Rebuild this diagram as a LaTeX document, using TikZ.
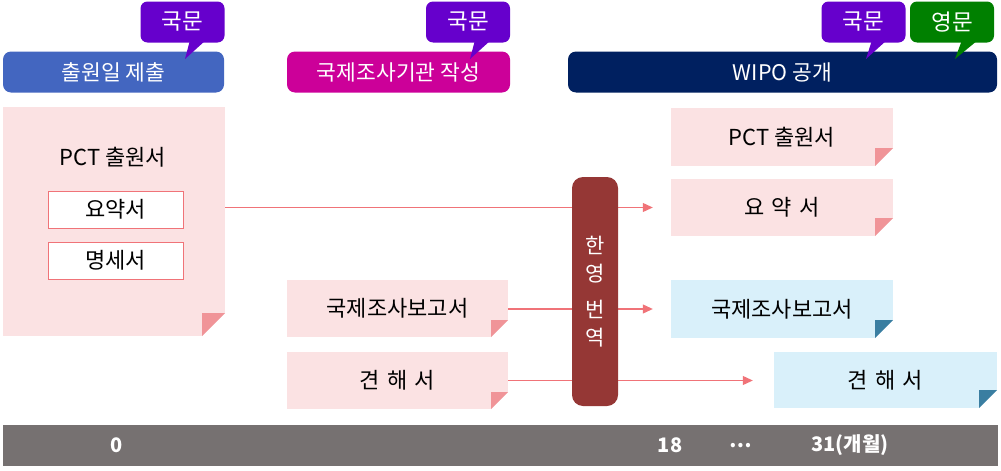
\documentclass[tikz,border=0pt]{standalone}
\usepackage{fontspec}
\setmainfont{Noto Sans CJK KR}
\usepackage{tikz}
\usetikzlibrary{arrows.meta}

\definecolor{hblue}{HTML}{4366C0}
\definecolor{hmagenta}{HTML}{CC0099}
\definecolor{hnavy}{HTML}{002060}
\definecolor{cpurple}{HTML}{6600CC}
\definecolor{cgreen}{HTML}{008000}
\definecolor{notepink}{HTML}{FBE2E3}
\definecolor{foldpink}{HTML}{F09498}
\definecolor{noteblue}{HTML}{D9F0FA}
\definecolor{foldblue}{HTML}{3A7EA1}
\definecolor{linered}{HTML}{F07378}
\definecolor{transred}{HTML}{953735}
\definecolor{bargray}{HTML}{767171}

\tikzset{
  header/.style={rectangle, rounded corners=8pt, inner sep=0pt, minimum height=41pt,
    text=white, font=\fontsize{21.5}{24}\selectfont},
  callout/.style={rectangle, rounded corners=7pt, inner sep=0pt, minimum width=84pt,
    minimum height=41pt, text=white, font=\fontsize{22.5}{24}\selectfont},
  notefold/.style n args={3}{rectangle, inner sep=0pt, fill=#1,
    font=\fontsize{22}{24}\selectfont,
    path picture={
      \coordinate (se) at (path picture bounding box.south east);
      \fill[white] (se) -- ++(-#3pt,0pt) -- ++(#3pt,#3pt) -- cycle;
      \fill[#2] (se) ++(-#3pt,0pt) -- ++(#3pt,#3pt) -- ++(-#3pt,0pt) -- cycle;}},
  itembox/.style={rectangle, draw=linered, line width=1pt, fill=white, inner sep=0pt,
    minimum width=135pt, minimum height=37pt, font=\fontsize{22}{24}\selectfont},
  arr/.style={draw=linered, line width=1.1pt, -{Triangle[length=10pt,width=9pt]}},
  bartext/.style={text=white, font=\fontsize{20}{22}\selectfont\bfseries}
}

\begin{document}
\begin{tikzpicture}[x=1pt,y=-1pt]
 \useasboundingbox (0,0) rectangle (1001,471);

 % headers
 \node[header, fill=hblue, minimum width=221pt] (h0) at (113.5,72) {출원일 제출};
 \node[header, fill=hmagenta, minimum width=223pt] (h1) at (398.5,72) {국제조사기관 작성};
 \node[header, fill=hnavy, minimum width=429pt] (h2) at (782.5,72) {WIPO 공개};

 % callouts
 \node[callout, fill=cpurple] (c0) at (182.5,22) {국문};
 \fill[cpurple] (190,40) -- (185,59) -- (206,40) -- cycle;
 \node[callout, fill=cpurple] (c1) at (468,22) {국문};
 \fill[cpurple] (475,40) -- (470,59) -- (491,40) -- cycle;
 \node[callout, fill=cpurple] (c2) at (863.5,22) {국문};
 \fill[cpurple] (872,40) -- (866,59) -- (887,40) -- cycle;
 \node[callout, fill=cgreen] (c3) at (952,22) {영문};
 \fill[cgreen] (962,40) -- (955,59) -- (978,40) -- cycle;

 % left column
 \node[notefold={notepink}{foldpink}{23}, minimum width=222pt, minimum height=229pt] (pct0) at (114,221.5) {};
 \node[font=\fontsize{22}{24}\selectfont] (pct0t) at (113,157) {PCT 출원서};
 \node[itembox] (abs0) at (115.5,209.5) {요약서};
 \node[itembox] (spec0) at (115.5,260.5) {명세서};

 % middle column
 \node[notefold={notepink}{foldpink}{17}, minimum width=221pt, minimum height=57pt] (isr0) at (397.5,308.5) {국제조사보고서};
 \node[notefold={notepink}{foldpink}{17}, minimum width=221pt, minimum height=57pt] (wo0) at (397.5,380.5) {견\,\,해\,\,서};

 % right column
 \node[notefold={notepink}{foldpink}{18}, minimum width=222pt, minimum height=58pt] (pct1) at (782,137) {PCT 출원서};
 \node[notefold={notepink}{foldpink}{18}, minimum width=222pt, minimum height=57pt] (abs1) at (782,207.5) {요\,\,약\,\,서};
 \node[notefold={noteblue}{foldblue}{18}, minimum width=222pt, minimum height=58pt] (isr1) at (782,309) {국제조사보고서};
 \node[notefold={noteblue}{foldblue}{18}, minimum width=223pt, minimum height=56pt] (wo1) at (885.5,380) {견\,\,해\,\,서};

 % arrows
 \draw[arr] (pct0.east |- abs1.west) -- ([xshift=-18pt]abs1.west);
 \draw[arr] (isr0.east |- isr1.west) -- ([xshift=-18pt]isr1.west);
 \draw[arr] (wo0.east) -- ([xshift=-21pt]wo1.west |- wo0.east);

 % translation
 \node[rectangle, rounded corners=11pt, fill=transred, inner sep=0pt, minimum width=46pt,
   minimum height=229pt, text=white, align=center, font=\fontsize{21}{28}\selectfont]
   (trans) at (595,291.5) {한\\영\\[8pt]번\\역};

 % time line
 \node[rectangle, fill=bargray, inner sep=0pt, minimum width=995pt, minimum height=41pt] (bar) at (500,445.5) {};
 \node[bartext] (m0) at (117,445.5) {0};
 \node[bartext] (m18) at (670,445.5) {18};
 \node[bartext] (mdots) at (741,445.5) {…};
 \node[bartext] (m31) at (850,445.5) {31(개월)};
\end{tikzpicture}
\end{document}
